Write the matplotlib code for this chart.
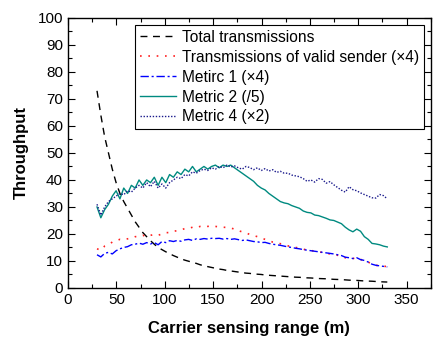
import numpy as np
import matplotlib
matplotlib.use("Agg")
import matplotlib.pyplot as plt
from matplotlib.ticker import MultipleLocator

plt.rcParams["font.family"] = ["Liberation Sans", "DejaVu Sans"]

# carrier sensing range samples (m)
sense_range = np.linspace(30, 330, 77)

total_tx = [73, 64, 56, 50, 44, 39, 35, 32, 29.5, 27, 24.5, 22.5, 20.5, 19, 17.5, 16.2,
            15, 14.2, 13.4, 12.7, 12, 11.4, 10.8, 10.3, 9.9, 9.5, 9.1, 8.6, 8.2, 7.9, 7.6,
            7.3, 7, 6.8, 6.5, 6.3, 6.1, 5.9, 5.7, 5.5, 5.4, 5.2, 5.1, 5, 4.8, 4.7, 4.6, 4.5,
            4.4, 4.3, 4.2, 4.1, 4, 3.95, 3.85, 3.75, 3.7, 3.6, 3.5, 3.45, 3.4, 3.3, 3.2,
            3.15, 3.1, 3, 2.9, 2.85, 2.8, 2.7, 2.6, 2.55, 2.5, 2.4, 2.3, 2.25, 2.2]

valid_tx = [14.5, 14, 15.5, 16, 17, 17.5, 18, 17.8, 18.2, 18.5, 19, 19, 19.5, 19, 19.5,
            19.8, 19.5, 20, 20.5, 20.5, 21, 21.2, 21.5, 22, 22, 22.5, 22.3, 22.8, 23, 22.8,
            23, 22.8, 22.6, 22.5, 22.4, 22.2, 21.8, 21.2, 20.8, 20.4, 19.8, 19.4, 19, 18.5,
            18, 17.5, 17, 16.8, 16.4, 16, 15.6, 15.3, 15, 14.8, 14.4, 14, 13.9, 13.6, 13.3,
            13.2, 12.9, 12.6, 12.4, 12.1, 11.8, 11.2, 11, 10.9, 11.2, 10.6, 10, 9.6, 8.8,
            8.4, 8.2, 8, 8]

metric1 = [12.3, 11.5, 12.8, 13.2, 12.6, 13.8, 14.5, 15, 15.3, 16, 16.2, 16.6, 16.2, 16.8,
           16.3, 16.8, 16, 17.2, 16.8, 17.5, 17.2, 17.6, 17.3, 17.8, 18, 17.6, 18.2, 18,
           18.3, 18.1, 18.4, 18.3, 18.4, 18.1, 18.3, 18, 18.2, 17.9, 17.6, 17.8, 17.5, 17.2,
           17.1, 16.8, 16.9, 16.5, 16.2, 16, 15.8, 15.5, 15.2, 15, 14.7, 14.5, 14.2, 14,
           13.8, 13.6, 13.4, 13.2, 13, 12.8, 12.6, 12.3, 12, 11.4, 11.2, 10.9, 11.2, 10.5,
           10.2, 9.6, 8.8, 8.4, 8.2, 8, 7.8]

metric2 = [30, 26, 29, 31, 34, 36, 33, 37, 35, 38, 37, 40, 38, 40, 39, 41, 38, 41, 39, 42,
           41, 43, 42, 44, 43, 45, 43, 44, 45, 44, 45, 45.5, 44.5, 45.5, 45, 45.5, 44.5,
           43.5, 42.5, 41.5, 40.5, 39.5, 38, 37, 36.3, 35, 34, 33, 32, 31.5, 31.2, 30.5, 30,
           29.5, 28.5, 28, 27.8, 27, 26.8, 26.3, 25.8, 25.2, 25, 24.4, 23.8, 22.5, 21.5,
           20.8, 21.8, 21, 19, 18, 16.5, 16.3, 16, 15.5, 15.2]

metric4 = [31, 27, 30, 32, 33, 34, 35, 34.5, 36, 35.5, 37, 38, 37, 39, 37.5, 39.5, 37, 38.5,
           37, 39, 40, 41, 40.5, 42, 41.5, 43, 42.5, 43.5, 44, 43.5, 44.5, 44, 45, 44.5,
           45.5, 44.8, 45.2, 44.5, 44, 45, 44.6, 43.8, 44.5, 43.5, 44.2, 43.3, 43.8, 42.8,
           43.2, 42.5, 42.5, 41.8, 41.5, 41.2, 40.5, 39.5, 40, 39.2, 40.5, 40.2, 38.8, 39.4,
           38.2, 37.2, 36.2, 35.5, 37.5, 36.4, 36, 35.2, 34.6, 34, 33.4, 33.3, 34.6, 34.2, 33]

fig = plt.figure(figsize=(4.33, 3.38), dpi=100)
ax = fig.add_axes([0.157, 0.148, 0.838, 0.799])

ax.plot(sense_range, total_tx, color="black", linestyle=(0, (5, 4)), linewidth=1.0,
        label="Total transmissions")
ax.plot(sense_range, valid_tx, color="#ff2020", linestyle=(0, (1, 4)), linewidth=1.2,
        label="Transmissions of valid sender (\u00d74)")
ax.plot(sense_range, metric1, color="blue", linestyle=(0, (6, 2, 1.5, 2)), linewidth=1.0,
        label="Metirc 1 (\u00d74)")
ax.plot(sense_range, metric2, color="#008a80", linestyle="-", linewidth=1.0,
        label="Metric 2 (/5)")
ax.plot(sense_range, metric4, color="#1a1a8c", linestyle=(0, (1, 1.2)), linewidth=1.0,
        label="Metric 4 (\u00d72)")

ax.set_xlim(0, 375)
ax.set_ylim(0, 100)
ax.xaxis.set_major_locator(MultipleLocator(50))
ax.xaxis.set_minor_locator(MultipleLocator(25))
ax.yaxis.set_major_locator(MultipleLocator(10))
ax.yaxis.set_minor_locator(MultipleLocator(5))
ax.tick_params(which="both", direction="in", top=True, right=True, labelsize=11, width=0.8)
ax.tick_params(which="major", length=5)
ax.tick_params(which="minor", length=3)
for s in ax.spines.values():
    s.set_linewidth(1.0)

ax.set_xlabel("Carrier sensing range (m)", fontsize=12, fontweight="bold", labelpad=10)
ax.set_ylabel("Throughput", fontsize=12, fontweight="bold", labelpad=6)

leg = ax.legend(loc="upper right", fontsize=11.2, frameon=True, fancybox=False,
                edgecolor="black", framealpha=1, handlelength=2.3, handletextpad=0.4,
                labelspacing=0.32, borderpad=0.3, borderaxespad=0.45)
leg.get_frame().set_linewidth(0.8)

fig.savefig("out.png", dpi=100)
